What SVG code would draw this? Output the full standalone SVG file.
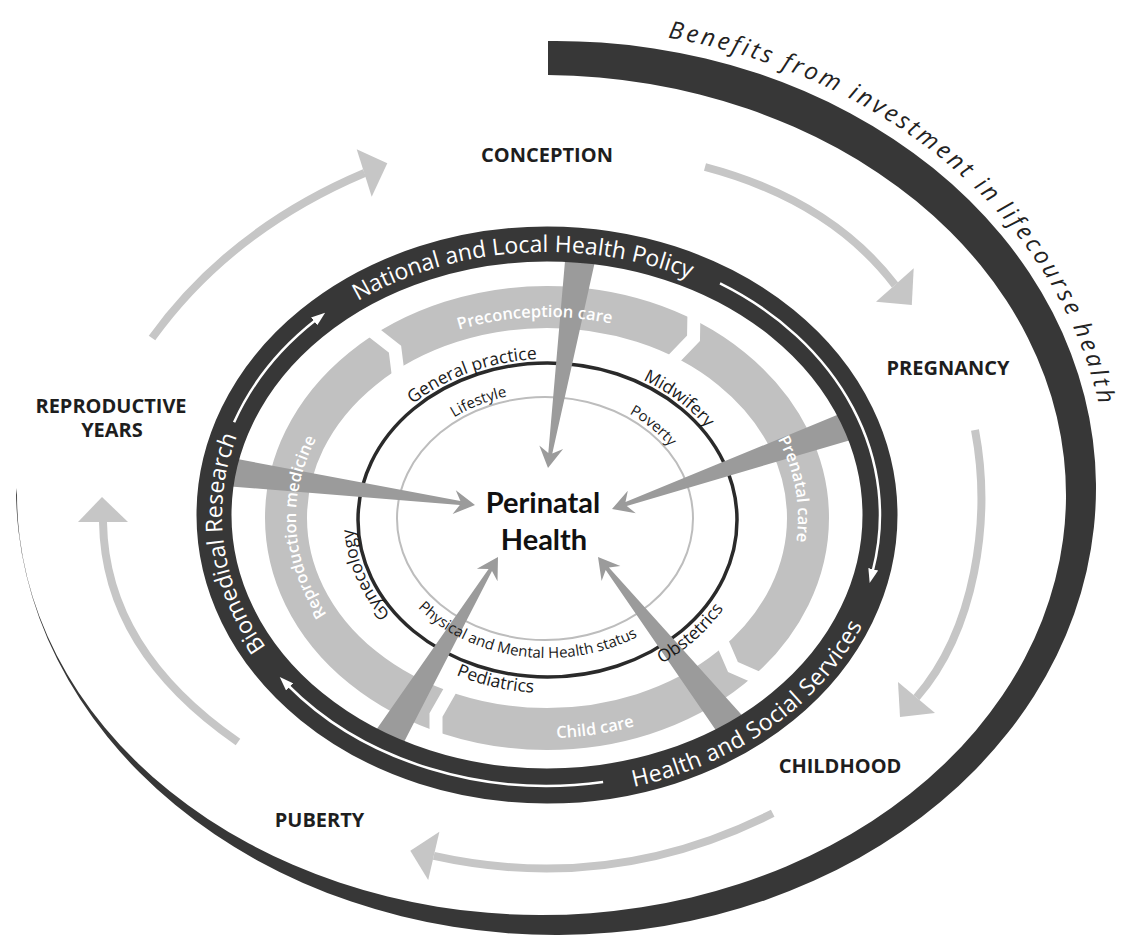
<svg xmlns="http://www.w3.org/2000/svg" width="1132" height="938" viewBox="0 0 1132 938">
<defs>
<style>
.ring-text{font-family:"Open Sans","DejaVu Sans",sans-serif;font-size:23px;fill:#ffffff}
.band-text{font-family:"Open Sans","DejaVu Sans",sans-serif;font-size:16.5px;font-weight:600;fill:#ffffff}
.inner-text{font-family:"Open Sans","DejaVu Sans",sans-serif;font-size:17.5px;fill:#1a1a1a}
.small-text{font-family:"Open Sans","DejaVu Sans",sans-serif;font-size:15px;fill:#1a1a1a}
.stage{font-family:"Open Sans","DejaVu Sans",sans-serif;font-size:20px;font-weight:700;fill:#1e1e1e;text-anchor:middle}
.benefit{font-family:"Open Sans","DejaVu Sans",sans-serif;font-style:italic;font-size:24px;letter-spacing:3px;fill:#222222}
.life-arrow{fill:none;stroke:#c6c6c6;stroke-width:8}
.life-head{fill:#c6c6c6}
.wedge{fill:#9b9b9b}
.white-arrow{fill:none;stroke:#ffffff;stroke-width:2.5}
.gap{fill:none;stroke:#ffffff;stroke-width:13;stroke-linejoin:miter;stroke-miterlimit:10}
</style>
<marker id="wh" markerUnits="userSpaceOnUse" markerWidth="14" markerHeight="10" refX="2" refY="5" orient="auto">
<path d="M0,0 L14,5 L0,10 Z" fill="#ffffff"/>
</marker>
<path id="tp-benefits" d="M667.9,37.6 A552,460 0 0 1 1105.9,447.9"/>
<path id="tp-national" d="M298,345.9 A325,263 0 0 1 755.9,313.5"/>
<path id="tp-biomed" d="M321.2,704.2 A325,263 0 0 1 277.6,367.9"/>
<path id="tp-hss" d="M559,795.8 A343,281 0 0 0 886.7,554.1"/>
<path id="tp-precon" d="M392.5,359.6 A251,201 0 0 1 680,347.6"/>
<path id="tp-prenatal" d="M731.6,381.8 A251,201 0 0 1 770,610.2"/>
<path id="tp-repro" d="M362.2,654.1 A251,201 0 0 1 347.6,395.9"/>
<path id="tp-child" d="M458.7,725.9 A270,220 0 0 0 723.8,684.3"/>
<path id="tp-gp" d="M390.6,425.4 A194,161 0 0 1 567.8,359.9"/>
<path id="tp-mid" d="M607.4,366.9 A194,161 0 0 1 727.4,459.7"/>
<path id="tp-gyn" d="M408.4,632.2 A194,161 0 0 1 354.5,503.7"/>
<path id="tp-obs" d="M634.1,676.8 A205,173 0 0 0 738.9,582"/>
<path id="tp-ped" d="M423,657.4 A205,173 0 0 0 571.1,691.9"/>
<path id="tp-phys" d="M396,579.6 A168,138 0 0 0 667.5,616.6"/>
<path id="tp-life" d="M426.7,439.4 A152,126 0 0 1 542.1,392.5"/>
<path id="tp-pov" d="M604.4,402.5 A152,126 0 0 1 684.9,469.3"/>
</defs>
<rect width="1132" height="938" fill="#ffffff"/>

<g id="spiral">
<path d="M548,41.05 A540,447 0 1 1 16,488 L17,495 A524.5,420 0 1 0 548,75.03 Z" fill="#373737"/>
<text class="benefit"><textPath href="#tp-benefits">Benefits from investment in</textPath></text>
<text class="benefit"><textPath href="#tp-benefits" startOffset="377.5">lifecourse</textPath></text>
<text class="benefit"><textPath href="#tp-benefits" startOffset="517.3">health</textPath></text>
</g>

<g id="connectors">
<g id="lifecourse-arrows">
<path class="life-arrow" d="M152,338 Q230,230 364.5,173"/>
<polygon class="life-head" points="387.3,163.3 356.7,149.3 371.7,196.7"/>
<path class="life-arrow" d="M705,167 Q830,200 895,285"/>
<polygon class="life-head" points="911.8,305 913.7,268.3 876,301.7"/>
<path class="life-arrow" d="M975,430 C992,520 975,630 916.5,697.5"/>
<polygon class="life-head" points="900,717 898,682 935,713"/>
<path class="life-arrow" d="M772.7,813.3 Q610,895 433.8,855.9"/>
<polygon class="life-head" points="410.3,850.7 439.4,831.7 428.2,880"/>
<path class="life-arrow" d="M238,742 Q105,650 103,522"/>
<polygon class="life-head" points="102,497 78,522 128,522"/>
</g>
</g>

<g id="stage-conception"><text class="stage" x="547" y="162">CONCEPTION</text></g>
<g id="stage-pregnancy"><text class="stage" x="948" y="375">PREGNANCY</text></g>
<g id="stage-childhood"><text class="stage" x="840" y="773">CHILDHOOD</text></g>
<g id="stage-puberty"><text class="stage" x="319.5" y="827">PUBERTY</text></g>
<g id="stage-reproductive"><text class="stage" x="111" y="413">REPRODUCTIVE</text><text class="stage" x="112" y="437">YEARS</text></g>

<g id="care-band">
<ellipse cx="547" cy="518" rx="261" ry="211" fill="none" stroke="#c1c1c1" stroke-width="42"/>
<polyline class="gap" points="365.2,325.8 395,349.2 398.4,376.2"/>
<polyline class="gap" points="694,310 693.5,338.3 669.5,363.2"/>
<polyline class="gap" points="720.6,638.4 733,667 762,679.8"/>
<polyline class="gap" points="451,688.8 436,715 436,745"/>
</g>

<g id="inner-rings">
<ellipse cx="545" cy="518.5" rx="148" ry="121.5" fill="none" stroke="#bdbdbd" stroke-width="2"/>
<ellipse cx="547.5" cy="520" rx="189.5" ry="157" fill="none" stroke="#2a2a2a" stroke-width="3.5"/>
</g>

<g id="influence-arrows">
<polygon class="wedge" points="598.3,246.4 552.3,453.5 563.1,449 548,468 539.3,445.4 548.3,452.9 566.7,241.6"/>
<polygon class="wedge" points="212,484.9 459.8,505 452.6,514.1 475,505 455.8,490.3 460.4,501 216,455.1"/>
<polygon class="wedge" points="867,435.2 626.8,505.9 635.8,513.3 612,509 627.8,490.7 625.5,502.1 857,406.8"/>
<polygon class="wedge" points="396.7,756.3 492,570.9 497.5,581.2 498,557 476.9,568.8 488.6,568.9 369.3,739.7"/>
<polygon class="wedge" points="752.6,727.1 608.9,567.5 620.4,566.1 598,557 601.6,580.9 605.7,570 727.4,746.9"/>
</g>

<g id="policy-ring">
<ellipse cx="547" cy="515" rx="333" ry="271" fill="none" stroke="#373737" stroke-width="35"/>
<path class="white-arrow" d="M234.1,422.3 A333,271 0 0 1 315.7,320.1" marker-end="url(#wh)"/>
<path class="white-arrow" d="M720,283.4 A333,271 0 0 1 872.7,571.3" marker-end="url(#wh)"/>
<path class="white-arrow" d="M603.1,782.1 A333,271 0 0 1 288.2,685.5" marker-end="url(#wh)"/>
<text class="ring-text" text-anchor="middle"><textPath href="#tp-national" startOffset="50%">National and Local Health Policy</textPath></text>
<text class="ring-text" text-anchor="middle"><textPath href="#tp-biomed" startOffset="50%">Biomedical Research</textPath></text>
<text class="ring-text" letter-spacing="0.4"><textPath href="#tp-hss" startOffset="75.4">Health and</textPath></text>
<text class="ring-text" letter-spacing="0.4"><textPath href="#tp-hss" startOffset="203.6">Social Services</textPath></text>
</g>

<g id="band-labels">
<text class="band-text" text-anchor="middle"><textPath href="#tp-precon" startOffset="50%">Preconception care</textPath></text>
<text class="band-text" text-anchor="middle"><textPath href="#tp-prenatal" startOffset="50%">Prenatal care</textPath></text>
<text class="band-text" text-anchor="middle"><textPath href="#tp-repro" startOffset="50%">Reproduction medicine</textPath></text>
<text class="band-text" text-anchor="middle"><textPath href="#tp-child" startOffset="50%">Child care</textPath></text>
</g>

<g id="practice-labels">
<text class="inner-text" text-anchor="middle"><textPath href="#tp-gp" startOffset="50%">General practice</textPath></text>
<text class="inner-text" text-anchor="middle"><textPath href="#tp-mid" startOffset="50%">Midwifery</textPath></text>
<text class="inner-text" text-anchor="middle"><textPath href="#tp-gyn" startOffset="50%">Gynecology</textPath></text>
<text class="inner-text" text-anchor="middle"><textPath href="#tp-obs" startOffset="50%">Obstetrics</textPath></text>
<text class="inner-text" text-anchor="middle"><textPath href="#tp-ped" startOffset="50%">Pediatrics</textPath></text>
</g>

<g id="determinant-labels">
<text class="small-text" text-anchor="middle" font-size="15.5"><textPath href="#tp-phys" startOffset="50%">Physical and Mental Health status</textPath></text>
<text class="small-text" text-anchor="middle"><textPath href="#tp-life" startOffset="50%">Lifestyle</textPath></text>
<text class="small-text" text-anchor="middle"><textPath href="#tp-pov" startOffset="50%">Poverty</textPath></text>
</g>

<g id="perinatal-health">
<text font-family="Lato,'Open Sans',sans-serif" font-weight="700" font-size="29" fill="#111111" text-anchor="middle"><tspan x="543" y="513">Perinatal</tspan><tspan x="544" y="550">Health</tspan></text>
</g>
</svg>
